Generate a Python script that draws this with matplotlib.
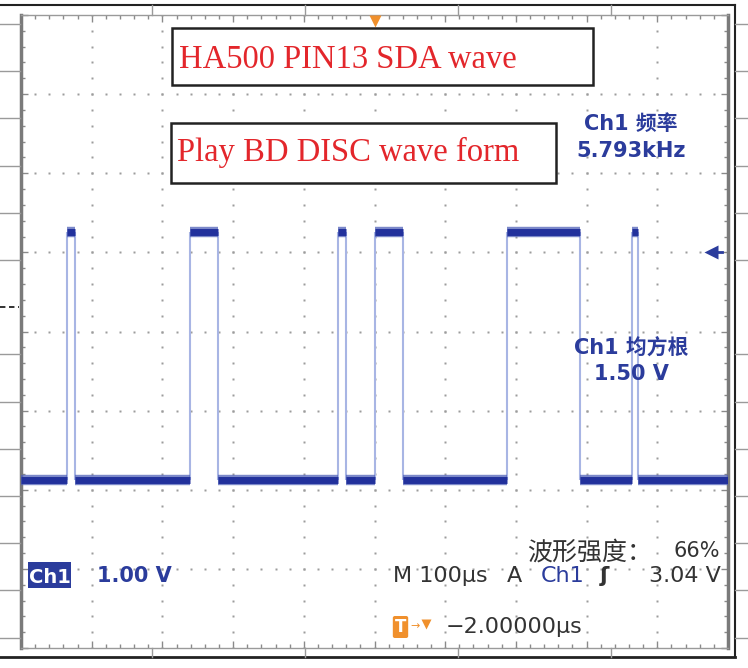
import numpy as np
import matplotlib
matplotlib.use("Agg")
import matplotlib.pyplot as plt
import matplotlib.transforms as mtransforms
from matplotlib.patches import Rectangle

# waveform: edge times in us, levels in V
rise_us = [-435, -261, -51, 0, 187, 364]
fall_us = [-423, -222, -41, 40, 290, 372]
low_v = 0.16
high_v = 3.30
t_span = (-500, 500)

# scope settings shown on screen
v_range = (-1.96, 6.04)
trig_level = 3.04
trig_pos_us = 0

title_lines = ["HA500 PIN13 SDA wave", "Play BD DISC wave form"]
meas1 = ["Ch1 频率", "5.793kHz"]
meas2 = ["Ch1 均方根", "1.50 V"]

blue = "#2b3c9c"
core = "#22319c"
halo = "#4f60b8"
edge_c = "#a8b5e4"
grey_txt = "#333333"
orange = "#f0902c"

plt.rcParams['font.family'] = ['DejaVu Sans', 'Noto Sans CJK SC']

W, H = 748, 668
fig = plt.figure(figsize=(W / 100, H / 100), dpi=100)
fig.patch.set_facecolor("white")

L, R, T, B = 21, 728, 15, 648
ax = fig.add_axes([L / W, 1 - B / H, (R - L) / W, (B - T) / H], zorder=2)
ax.set_xlim(*t_span)
ax.set_ylim(*v_range)

# graticule: ticks on all edges
ax.set_xticks(np.arange(t_span[0], t_span[1] + 1, 100))
ax.set_xticks(np.arange(t_span[0], t_span[1] + 1, 20), minor=True)
ax.set_yticks(np.arange(v_range[0], v_range[1] + 0.01, 1.0))
ax.set_yticks(np.arange(v_range[0], v_range[1] + 0.01, 0.2), minor=True)
ax.tick_params(which='both', direction='in', top=True, right=True,
               labelbottom=False, labelleft=False, color='#8a8a8a', width=1)
ax.tick_params(which='major', length=5)
ax.tick_params(which='minor', length=3)
for s in ['left', 'right']:
    ax.spines[s].set_linewidth(2.5)
    ax.spines[s].set_color('#7a7a7a')
for s in ['top', 'bottom']:
    ax.spines[s].set_linewidth(1)
    ax.spines[s].set_color('#9a9a9a')

# dotted grid
xs_major = np.arange(t_span[0] + 100, t_span[1], 100)
ys_major = np.arange(v_range[0] + 1, v_range[1] - 0.01, 1.0)
xs_minor = np.arange(t_span[0], t_span[1] + 1, 20)
ys_minor = np.arange(v_range[0], v_range[1] + 0.01, 0.2)
gx, gy = np.meshgrid(xs_major, ys_minor)
ax.plot(gx.ravel(), gy.ravel(), ls='none', marker='s', ms=1.5, color='#9c9c9c', mec='none')
gx, gy = np.meshgrid(xs_minor, ys_major)
ax.plot(gx.ravel(), gy.ravel(), ls='none', marker='s', ms=1.5, color='#9c9c9c', mec='none')

# trace: faint edges, then noisy low/high levels
ax.vlines(rise_us + fall_us, low_v, high_v, color=edge_c, lw=1.5, zorder=3)
lo_start = [t_span[0]] + fall_us
lo_end = rise_us + [t_span[1]]
for a, b in zip(lo_start, lo_end):
    ax.plot([a, b], [low_v, low_v], color=halo, lw=7.5, solid_capstyle='butt', alpha=0.75, zorder=4)
    ax.plot([a, b], [low_v, low_v], color=core, lw=5, solid_capstyle='butt', zorder=5)
for a, b in zip(rise_us, fall_us):
    ax.plot([a, b], [high_v, high_v], color=halo, lw=7.5, solid_capstyle='butt', alpha=0.75, zorder=4)
    ax.plot([a, b], [high_v, high_v], color=core, lw=5, solid_capstyle='butt', zorder=5)

# trigger position and level markers
ax.plot([trig_pos_us], [v_range[1] - 0.07], marker='v', ms=8, color=orange, mec='none', clip_on=False, zorder=6)
tr = mtransforms.blended_transform_factory(ax.transAxes, ax.transData)
ax.plot([0.976], [trig_level], marker='<', ms=10, color=blue, mec='none', transform=tr, zorder=6)
ax.plot([0.976, 0.992], [trig_level, trig_level], color=blue, lw=2, transform=tr, zorder=6)

# overlay in pixel coordinates
ov = fig.add_axes([0, 0, 1, 1], zorder=3)
ov.set_xlim(0, W)
ov.set_ylim(H, 0)
ov.axis('off')
ov.patch.set_alpha(0)

# outer frame
ov.plot([0, 735], [5, 5], color='#222222', lw=1.5)
ov.plot([735, 735], [5, 657], color='#222222', lw=1.5)
ov.plot([0, 735], [657, 657], color='#222222', lw=2)
for x in [152, 305, 458, 611]:
    ov.plot([x, x], [5, T], color='#9a9a9a', lw=1)
    ov.plot([x, x], [B, 657], color='#9a9a9a', lw=1)
for k in range(14):
    y = 24 + 47.2 * k
    if k == 6:
        ov.plot([0, 19], [y, y], color='#222222', lw=1.3, ls=(0, (3, 2)))
        continue
    ov.plot([0, L - 1], [y, y], color='#9a9a9a', lw=1)
    ov.plot([735, W], [y, y], color='#9a9a9a', lw=1)

# annotation boxes
ov.add_patch(Rectangle((172, 28), 421, 57, facecolor='white', edgecolor='#222222', lw=1.8))
ov.add_patch(Rectangle((171, 123), 385, 60, facecolor='white', edgecolor='#222222', lw=1.8))
ov.text(179, 68, title_lines[0], color='#e3262b', fontsize=23.5, family='Liberation Serif', va='baseline')
ov.text(177, 161, title_lines[1], color='#e3262b', fontsize=23.5, family='Liberation Serif', va='baseline')

# measurements
ov.text(631, 130, meas1[0], color=blue, fontsize=15, fontweight='bold', ha='center', va='baseline')
ov.text(631, 157, meas1[1], color=blue, fontsize=15, fontweight='bold', ha='center', va='baseline')
ov.text(631, 355, meas2[0], color=blue, fontsize=15, fontweight='bold', ha='center', va='baseline')
ov.text(631, 380, meas2[1], color=blue, fontsize=15, fontweight='bold', ha='center', va='baseline')

# status lines
ov.add_patch(Rectangle((28, 562), 43, 26, facecolor=blue, edgecolor='none'))
ov.text(49.5, 583, "Ch1", color='white', fontsize=14, fontweight='bold', ha='center', va='baseline')
ov.text(97, 582, "1.00 V", color=blue, fontsize=15, fontweight='bold', va='baseline')

ov.text(527, 560, "波形强度：", color=grey_txt, fontsize=18, va='baseline')
ov.text(720, 557, "66%", color=grey_txt, fontsize=15, ha='right', va='baseline')
ov.text(393, 582, "M 100µs", color=grey_txt, fontsize=16, va='baseline')
ov.text(507, 582, "A", color=grey_txt, fontsize=16, va='baseline')
ov.text(541, 582, "Ch1", color=blue, fontsize=16, va='baseline')
ov.text(600, 582, "ʃ", color=grey_txt, fontsize=16, fontweight='bold', va='baseline')
ov.text(721, 582, "3.04 V", color=grey_txt, fontsize=16, ha='right', va='baseline')

ov.text(400.5, 632, "T", color='white', fontsize=12, fontweight='bold', ha='center', va='baseline',
        bbox=dict(boxstyle='round,pad=0.12', facecolor=orange, edgecolor='none'))
ov.text(410, 629, "→", color=orange, fontsize=8, va='baseline')
ov.plot([426], [624], marker='v', ms=7, color=orange, mec='none')
ov.text(446, 633, "−2.00000µs", color=grey_txt, fontsize=16, va='baseline')

fig.savefig("out.png", dpi=100)
